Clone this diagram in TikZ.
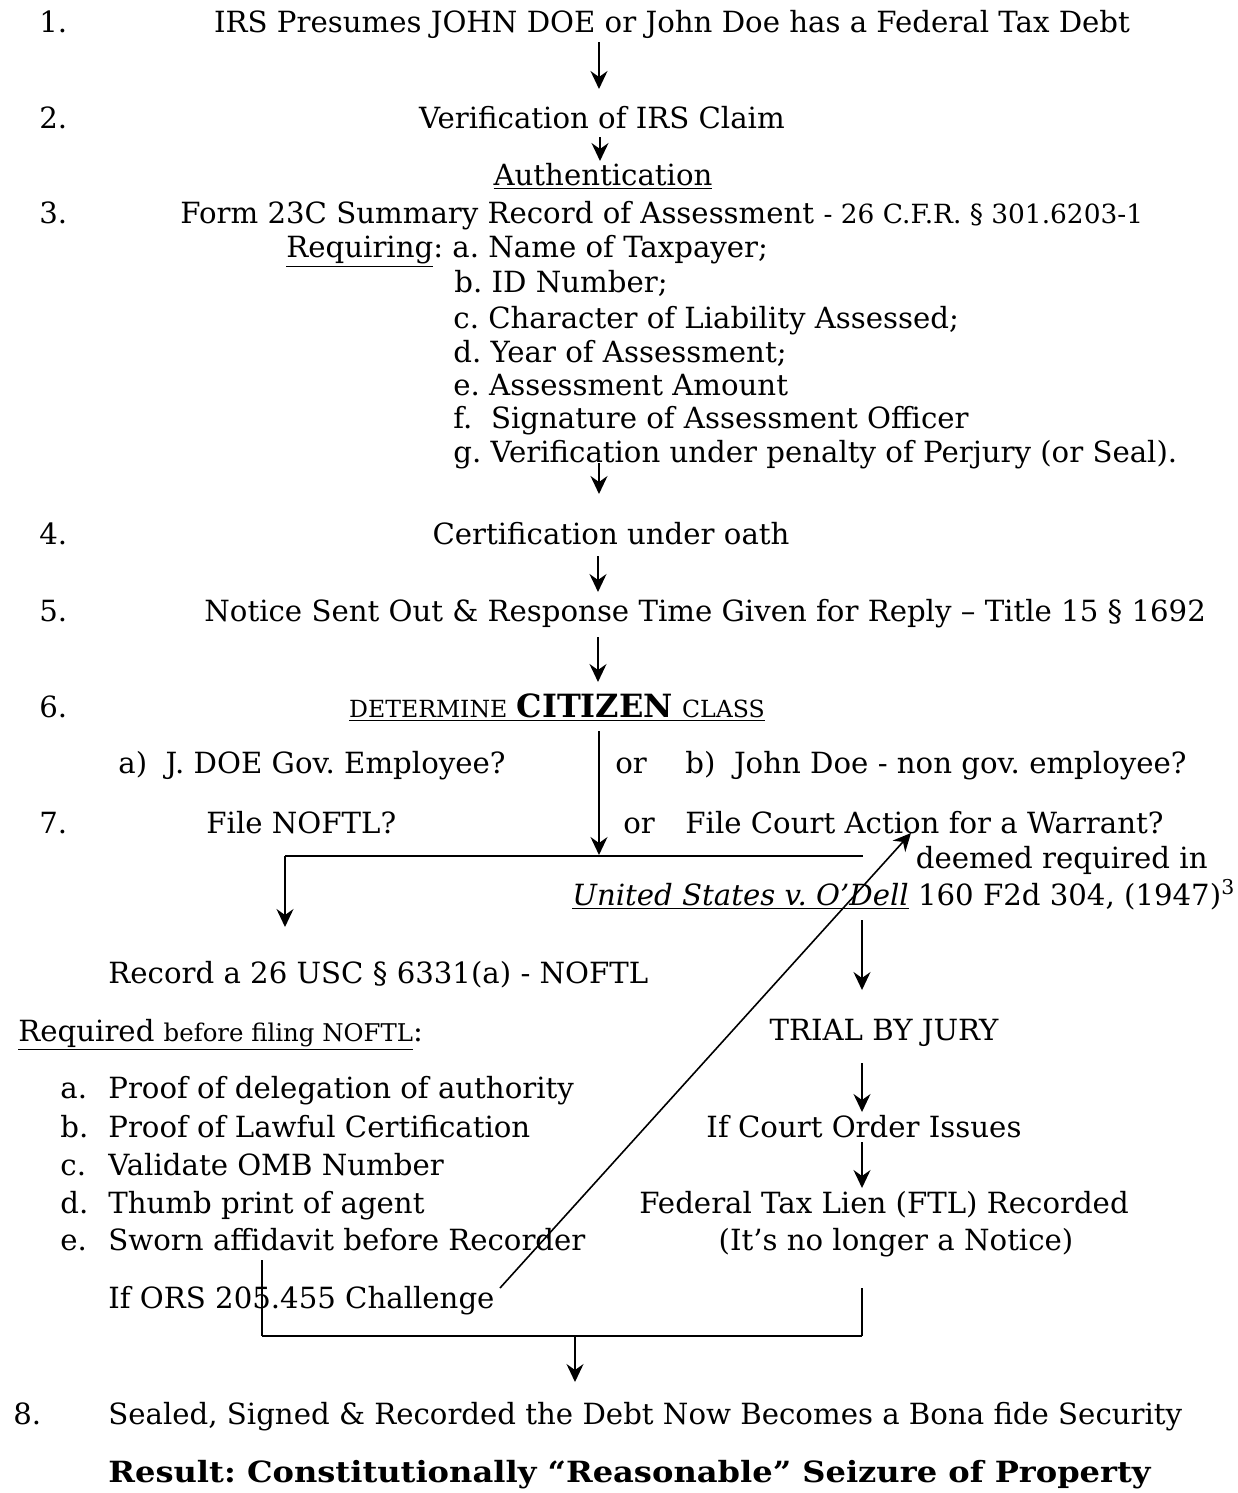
\documentclass[tikz,border=0pt]{standalone}
\usepackage{fontspec}
\setmainfont{DejaVu Serif}
\newfontfamily\resultfont{DejaVu Serif}[FakeStretch=1.1]
\usetikzlibrary{arrows.meta}
\newcommand\fs{\frenchspacing\fontsize{14.6bp}{18bp}\selectfont}
\newcommand\smallpart{\fontsize{12.2bp}{15bp}\selectfont}
\newcommand\cfrpart{\fontsize{13.2bp}{15bp}\selectfont}
\newcommand\fakesc{\fontsize{11.8bp}{14bp}\selectfont}
\newcommand\bigbold{\fontsize{16bp}{18bp}\selectfont\bfseries}
\begin{document}
\begin{tikzpicture}[x=0.5bp,y=-0.5bp,
  txt/.style={inner sep=0pt, anchor=base west, font=\fs},
  ctxt/.style={inner sep=0pt, anchor=base, font=\fs},
  rtxt/.style={inner sep=0pt, anchor=base east, font=\fs},
  arr/.style={-{Stealth[length=9bp,width=8.5bp,inset=3bp]}, line width=0.8bp},
  ln/.style={line width=0.8bp},
  hln/.style={line width=1bp}]
\fill[white] (0,0) rectangle (1238,1493);
\useasboundingbox (0,0) rectangle (1238,1493);

% ---------- text ----------
\node[txt]  (n1) at (39,32) {1.};
\node[ctxt] (s1) at (672,32) {IRS Presumes JOHN DOE or John Doe has a Federal Tax Debt};
\node[txt]  (n2) at (39,128) {2.};
\node[ctxt] (s2) at (602,128) {Verification of IRS Claim};
\node[ctxt] (auth) at (603,185) {\underline{Authentication}};
\node[txt]  (n3) at (39,223) {3.};
\node[txt]  (s3) at (180,223) {Form 23C Summary Record of Assessment {\cfrpart - 26 C.F.R. § 301.6203-1}};
\node[txt]  (ra) at (286,257) {\underline{Requiring}: a. Name of Taxpayer;};
\node[txt]  (rb) at (454,292) {b. ID Number;};
\node[txt]  (rc) at (453,328) {c. Character of Liability Assessed;};
\node[txt]  (rd) at (453,362) {d. Year of Assessment;};
\node[txt]  (re) at (453,395) {e. Assessment Amount};
\node[txt]  (rf) at (453,428) {f.\ \ Signature of Assessment Officer};
\node[txt]  (rg) at (453,462) {g. Verification under penalty of Perjury (or Seal).};
\node[txt]  (n4) at (39,544) {4.};
\node[ctxt] (s4) at (611,544) {Certification under oath};
\node[txt]  (n5) at (39,621) {5.};
\node[txt]  (s5) at (204,621) {Notice Sent Out \& Response Time Given for Reply – Title 15 § 1692};
\node[txt]  (n6) at (39,717) {6.};
\node[ctxt] (s6) at (557,717) {\underline{{\fakesc DETERMINE} {\bigbold CITIZEN} {\fakesc CLASS}}};
\node[txt]  (ca) at (118,773) {a)\ \ J. DOE Gov. Employee?};
\node[txt]  (or1) at (615,773) {or};
\node[txt]  (cb) at (685,773) {b)\ \ John Doe - non gov. employee?};
\node[txt]  (n7) at (39,833) {7.};
\node[txt]  (fa) at (206,833) {File NOFTL?};
\node[txt]  (or2) at (623,833) {or};
\node[txt]  (fb) at (685,833) {File Court Action for a Warrant?};
\node[rtxt] (deem) at (1208,868) {deemed required in};
\node[txt]  (odell) at (572,905) {\underline{\textit{United States v. O’Dell}} 160 F2d 304, (1947)\textsuperscript{3}};
\node[txt]  (rec) at (108,983) {Record a 26 USC § 6331(a) - NOFTL};
\node[txt]  (reqd) at (18,1041) {\underline{Required {\smallpart before filing NOFTL}}:};
\node[ctxt] (trial) at (884,1040) {TRIAL BY JURY};
\node[txt]  (la) at (60,1098) {\makebox[24bp][l]{a.}Proof of delegation of authority};
\node[txt]  (lb) at (60,1137) {\makebox[24bp][l]{b.}Proof of Lawful Certification};
\node[txt]  (lc) at (60,1175) {\makebox[24bp][l]{c.}Validate OMB Number};
\node[txt]  (ld) at (60,1213) {\makebox[24bp][l]{d.}Thumb print of agent};
\node[txt]  (le) at (60,1250) {\makebox[24bp][l]{e.}Sworn affidavit before Recorder};
\node[ctxt] (court) at (864,1137) {If Court Order Issues};
\node[ctxt] (ftl) at (884,1213) {Federal Tax Lien (FTL) Recorded};
\node[ctxt] (notice) at (896,1250) {(It’s no longer a Notice)};
\node[txt]  (ors) at (108,1308) {If ORS 205.455 Challenge};
\node[txt]  (n8) at (13,1424) {8.};
\node[txt]  (s8) at (108,1424) {Sealed, Signed \& Recorded the Debt Now Becomes a Bona fide Security};
\node[txt]  (res) at (108,1482) {\resultfont\bfseries Result: Constitutionally “Reasonable” Seizure of Property};

% ---------- connector end points ----------
\coordinate (a1s) at (599,42);   \coordinate (a1e) at (599,89);
\coordinate (a2s) at (600,137);  \coordinate (a2e) at (600,161);
\coordinate (a3s) at (599,463);  \coordinate (a3e) at (599,494);
\coordinate (a4s) at (598,556);  \coordinate (a4e) at (598,592);
\coordinate (a5s) at (598,637);  \coordinate (a5e) at (598,682);
\coordinate (a6s) at (599,731);  \coordinate (a6e) at (599,855);
\coordinate (hl) at (285,856);   \coordinate (hr) at (863,856);
\coordinate (ld1) at (285,927);
\coordinate (rd0) at (862,920);  \coordinate (rd1) at (862,990);
\coordinate (dg0) at (500,1288); \coordinate (dg1) at (911,833);
\coordinate (t1s) at (862,1063); \coordinate (t1e) at (862,1112);
\coordinate (t2s) at (862,1142); \coordinate (t2e) at (862,1188);
\coordinate (bl0) at (262,1260); \coordinate (bl1) at (262,1336);
\coordinate (br0) at (862,1288); \coordinate (br1) at (862,1336);
\coordinate (bm0) at (575,1336); \coordinate (bm1) at (575,1382);

% ---------- connectors ----------
\draw[arr] (a1s) -- (a1e);
\draw[arr] (a2s) -- (a2e);
\draw[arr] (a3s) -- (a3e);
\draw[arr] (a4s) -- (a4e);
\draw[arr] (a5s) -- (a5e);
\draw[arr] (a6s) -- (a6e);
\draw[hln] (hl) -- (hr);
\draw[arr] (hl) -- (ld1);
\draw[arr] (rd0) -- (rd1);
\draw[arr] (dg0) -- (dg1);
\draw[arr] (t1s) -- (t1e);
\draw[arr] (t2s) -- (t2e);
\draw[ln] (bl0) -- (bl1);
\draw[ln] (br0) -- (br1);
\draw[hln] (bl1) -- (br1);
\draw[arr] (bm0) -- (bm1);
\end{tikzpicture}
\end{document}
